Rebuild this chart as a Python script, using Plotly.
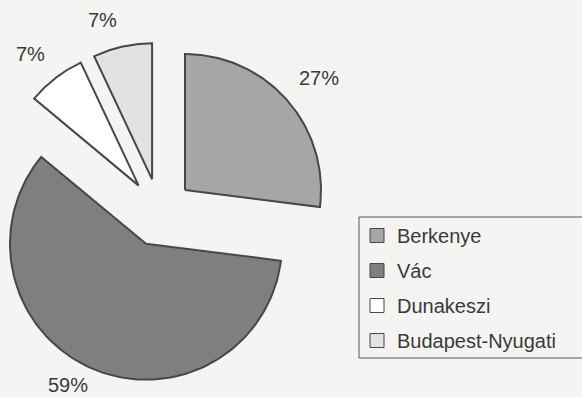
import numpy as np
import plotly.graph_objects as go

# Share of passengers by station (percent)
stations = ["Berkenye", "Vác", "Dunakeszi", "Budapest-Nyugati"]
shares = [27, 59, 7, 7]
fill_colors = ["#a6a6a6", "#7f7f7f", "#ffffff", "#e2e2e2"]

# Layout of the exploded pie, in pixel units of the page
W, H = 582, 397
CX, CY = 159.5, 212.5      # centre of the un-exploded pie
RADIUS = 136
PULL = 0.25                # explode distance as a fraction of the radius
EDGE = "#474747"
TEXT = "#3a3a3a"
FONT = "Liberation Sans, Arial, sans-serif"

fig = go.Figure()

total = float(sum(shares))
start = 0.0
for name, val, col in zip(stations, shares, fill_colors):
    sweep = 360.0 * val / total
    mid = np.radians(start + sweep / 2)
    # apex of the slice after pulling it out along its bisector
    ax = CX + PULL * RADIUS * np.sin(mid)
    ay = CY - PULL * RADIUS * np.cos(mid)
    th = np.radians(np.linspace(start, start + sweep, 120))
    xs = np.concatenate([[ax], ax + RADIUS * np.sin(th), [ax]])
    ys = np.concatenate([[ay], ay - RADIUS * np.cos(th), [ay]])
    fig.add_trace(go.Scatter(
        x=xs, y=ys, mode="lines", fill="toself", fillcolor=col,
        line=dict(color=EDGE, width=2), legendgroup=name, showlegend=False,
        hoverinfo="text", text=f"{name}: {val}%",
    ))
    # legend entry
    fig.add_trace(go.Scatter(
        x=[None], y=[None], mode="markers", name=name, legendgroup=name,
        marker=dict(symbol="square", size=14, color=col,
                    line=dict(color=EDGE, width=1)),
    ))
    # percentage label just outside the slice, anchored by its nearest corner
    dx, dy = np.sin(mid), -np.cos(mid)
    lr = RADIUS * (1.1 if dy < 0 else 1.03)
    fig.add_annotation(
        x=ax + lr * dx, y=ay + lr * dy, text=f"{val}%", showarrow=False,
        xanchor="left" if dx > 0 else "right",
        yanchor="bottom" if dy < 0 else "top",
        font=dict(family=FONT, size=20, color=TEXT),
    )
    start += sweep

# legend frame, running off the right edge of the page
fig.add_shape(type="rect", x0=359, x1=W + 20, y0=217, y1=358,
              line=dict(color="#555555", width=1), fillcolor="rgba(0,0,0,0)",
              layer="below")

fig.update_xaxes(range=[0, W], visible=False, fixedrange=True)
fig.update_yaxes(range=[H, 0], visible=False, fixedrange=True)

fig.update_layout(
    width=W, height=H,
    margin=dict(l=0, r=0, t=0, b=0),
    paper_bgcolor="#f4f4f2", plot_bgcolor="#f4f4f2",
    font=dict(family=FONT, size=20, color=TEXT),
    legend=dict(
        x=357 / W, y=1 - 216 / H, xanchor="left", yanchor="top",
        bgcolor="rgba(0,0,0,0)", borderwidth=0,
        traceorder="grouped", tracegroupgap=6, itemwidth=30,
        font=dict(family=FONT, size=20, color=TEXT),
    ),
    showlegend=True,
)

fig.write_html("out.html")
